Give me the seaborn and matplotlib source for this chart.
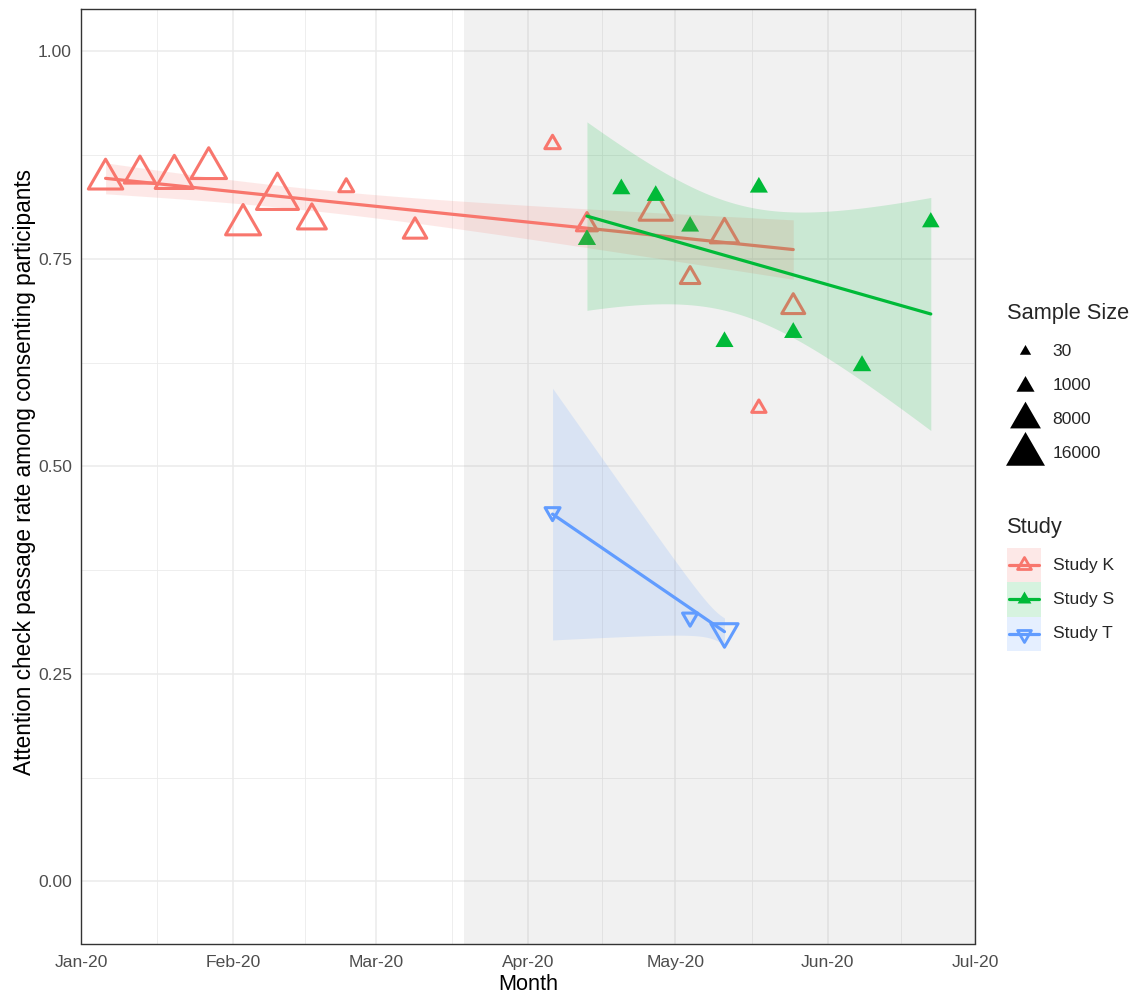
import numpy as np
import pandas as pd
import matplotlib
matplotlib.use("Agg")
import matplotlib.pyplot as plt
import matplotlib.dates as mdates
from matplotlib.lines import Line2D
from matplotlib.patches import Rectangle
from matplotlib.path import Path
from matplotlib.markers import MarkerStyle
from matplotlib.ticker import FormatStrFormatter
import seaborn as sns

# ---------------- data ----------------
study_names = ["Study K", "Study S", "Study T"]

k_dates = ["2020-01-06", "2020-01-13", "2020-01-20", "2020-01-27", "2020-02-03",
           "2020-02-10", "2020-02-17", "2020-02-24", "2020-03-09", "2020-04-06",
           "2020-04-13", "2020-04-27", "2020-05-04", "2020-05-11", "2020-05-18",
           "2020-05-25"]
k_rate = [0.846, 0.852, 0.848, 0.859, 0.791, 0.824, 0.796, 0.836, 0.783, 0.888,
          0.791, 0.808, 0.727, 0.779, 0.570, 0.692]
k_n = [8500, 6000, 12000, 9500, 9000, 16000, 4500, 40, 1800, 60,
       1000, 7500, 600, 4100, 30, 1600]

s_dates = ["2020-04-13", "2020-04-20", "2020-04-27", "2020-05-04", "2020-05-11",
           "2020-05-18", "2020-05-25", "2020-06-08", "2020-06-22"]
s_rate = [0.773, 0.834, 0.826, 0.789, 0.650, 0.836, 0.661, 0.621, 0.794]
s_n = [1050, 1000, 1000, 950, 1000, 1000, 1050, 1100, 850]

t_dates = ["2020-04-06", "2020-05-04", "2020-05-11"]
t_rate = [0.445, 0.318, 0.301]
t_n = [40, 45, 3500]

size_breaks = [30, 1000, 8000, 16000]
month_ticks = ["2020-01-01", "2020-02-01", "2020-03-01", "2020-04-01",
               "2020-05-01", "2020-06-01", "2020-07-01"]
shade_start, shade_end = "2020-03-19", "2020-07-01"
y_ticks = [0.0, 0.25, 0.5, 0.75, 1.0]

# ---------------- styling ----------------
sns.set_theme(style="white")
plt.rcParams["font.family"] = ["Liberation Sans", "DejaVu Sans"]

colors = {"Study K": "#F8766D", "Study S": "#00BA38", "Study T": "#619CFF"}
RIBBON_ALPHA = 0.16

DPI = 100
W, H = 1135, 994
PT_PER_PX = 72 / DPI

tri_up = MarkerStyle(Path([(0, 1), (-0.866, -0.5), (0.866, -0.5), (0, 1)],
                          [Path.MOVETO, Path.LINETO, Path.LINETO, Path.CLOSEPOLY]),
                     joinstyle="miter")
tri_down = MarkerStyle(Path([(0, -1), (-0.866, 0.5), (0.866, 0.5), (0, -1)],
                            [Path.MOVETO, Path.LINETO, Path.LINETO, Path.CLOSEPOLY]),
                       joinstyle="miter")


def tri_width_px(n, extra=0.0):
    # triangle width grows with the square root of the sample size
    return 11.3 + extra + 0.219 * np.sqrt(max(n - 30, 0))


def tri_ms(n, extra=0.0):
    return tri_width_px(n, extra) * PT_PER_PX / 0.866


def tri_area(n, extra=0.0):
    return tri_ms(n, extra) ** 2


OPEN_EXTRA = 3.0

base = pd.Timestamp("2020-01-01")


def frame(dates, rate, n, name):
    d = pd.to_datetime(pd.Series(dates))
    return pd.DataFrame({"date": d, "rate": rate, "n": n, "study": name,
                         "days": (d - base) / pd.Timedelta(days=1)})


df_k = frame(k_dates, k_rate, k_n, "Study K")
df_s = frame(s_dates, s_rate, s_n, "Study S")
df_t = frame(t_dates, t_rate, t_n, "Study T")

T975 = {1: 12.706, 7: 2.365, 14: 2.145}


def wls_fit(df, num=80):
    """Sample-size weighted linear fit with a 95% confidence band."""
    x = df["days"].to_numpy(float)
    y = df["rate"].to_numpy(float)
    w = df["n"].to_numpy(float)
    X = np.column_stack([np.ones_like(x), x])
    XtWX = X.T @ (X * w[:, None])
    beta = np.linalg.solve(XtWX, X.T @ (w * y))
    resid = y - X @ beta
    dof = len(x) - 2
    s2 = np.sum(w * resid ** 2) / dof
    cov = s2 * np.linalg.inv(XtWX)
    g = np.linspace(x.min(), x.max(), num)
    G = np.column_stack([np.ones_like(g), g])
    fit = G @ beta
    se = np.sqrt(np.einsum("ij,jk,ik->i", G, cov, G))
    half = T975[dof] * se
    gd = base + pd.to_timedelta(g, unit="D")
    return pd.DataFrame({"date": gd, "fit": fit, "lo": fit - half, "hi": fit + half})


# ---------------- figure ----------------
fig = plt.figure(figsize=(W / DPI, H / DPI), dpi=DPI)
ax = fig.add_axes([81 / W, 1 - 943.5 / H, 894 / W, (943.5 - 8.7) / H])
ax.set_facecolor("white")

# lockdown period shading
ax.axvspan(pd.Timestamp(shade_start), pd.Timestamp(shade_end), color="#7F7F7F",
           alpha=0.1, lw=0, zorder=0.8)

# points
sns.scatterplot(data=df_k, x="date", y="rate", size="n",
                sizes={n: tri_area(n, OPEN_EXTRA) for n in df_k["n"].unique()},
                marker=tri_up, facecolor="none", edgecolor=colors["Study K"],
                linewidth=2.2, legend=False, ax=ax, zorder=2)
sns.scatterplot(data=df_s, x="date", y="rate", size="n",
                sizes={n: tri_area(n) for n in df_s["n"].unique()},
                marker=tri_up, facecolor=colors["Study S"], edgecolor="none",
                linewidth=0, legend=False, ax=ax, zorder=2)
sns.scatterplot(data=df_t, x="date", y="rate", size="n",
                sizes={n: tri_area(n, OPEN_EXTRA) for n in df_t["n"].unique()},
                marker=tri_down, facecolor="none", edgecolor=colors["Study T"],
                linewidth=2.2, legend=False, ax=ax, zorder=2)

# weighted linear trends with confidence bands
z = 3.0
for df in (df_k, df_s, df_t):
    name = df["study"].iloc[0]
    c = colors[name]
    fit = wls_fit(df)
    ax.fill_between(fit["date"], fit["lo"], fit["hi"], color=c, alpha=RIBBON_ALPHA,
                    linewidth=0, zorder=z)
    sns.lineplot(data=fit, x="date", y="fit", color=c, linewidth=2.3, ax=ax,
                 zorder=z + 0.1)
    z += 0.2

# axes
ax.set_xlim(pd.Timestamp(month_ticks[0]), pd.Timestamp(month_ticks[-1]))
ax.set_ylim(-0.0747, 1.0512)
major_x = [pd.Timestamp(d) for d in month_ticks]
ax.set_xticks(major_x)
minor_x = [major_x[i] + (major_x[i + 1] - major_x[i]) / 2 for i in range(len(major_x) - 1)]
ax.set_xticks(minor_x, minor=True)
ax.xaxis.set_major_formatter(mdates.DateFormatter("%b-%y"))
ax.set_yticks(y_ticks)
ax.set_yticks([0.125, 0.375, 0.625, 0.875], minor=True)
ax.yaxis.set_major_formatter(FormatStrFormatter("%.2f"))
ax.set_axisbelow(True)
ax.grid(which="major", color="#EBEBEB", linewidth=1.1)
ax.grid(which="minor", color="#EBEBEB", linewidth=0.6)
ax.tick_params(which="major", length=3.5, width=1.0, color="#333333",
               labelcolor="#4D4D4D", labelsize=12.6, pad=3.0)
ax.tick_params(axis="x", which="major", pad=4.5)
ax.tick_params(which="minor", length=0)
for sp in ax.spines.values():
    sp.set_visible(True)
    sp.set_color("#333333")
    sp.set_linewidth(1.0)
ax.set_xlabel("")
ax.set_ylabel("")


def fx(px):
    return px / W


def fy(py):
    return 1 - py / H


fig.text(fx(528), fy(984), "Month", fontsize=15.6, ha="center", va="center", color="black")
fig.text(fx(25), fy(472), "Attention check passage rate among consenting participants",
         fontsize=16.3, rotation=90, ha="center", va="center", color="black")

# legend: sample size
fig.text(fx(1007), fy(313), "Sample Size", fontsize=15.7, ha="left", va="center")
for n, yy in zip(size_breaks, [351, 385.5, 419, 454]):
    fig.add_artist(Line2D([fx(1024.5)], [fy(yy)], transform=fig.transFigure,
                          marker=tri_up, markersize=tri_ms(n), color="black",
                          markeredgewidth=0, linestyle="none"))
    fig.text(fx(1052.5), fy(yy), f"{n}", fontsize=12.6, ha="left", va="center")

# legend: study
fig.text(fx(1007), fy(527), "Study", fontsize=15.7, ha="left", va="center")
key_markers = {"Study K": (tri_up, False), "Study S": (tri_up, True), "Study T": (tri_down, False)}
for i, name in enumerate(study_names):
    c = colors[name]
    top = 548 + 34.3 * i
    cy = top + 17.15
    fig.add_artist(Rectangle((fx(1007), fy(top + 34.3)), 34 / W, 34.3 / H,
                             transform=fig.transFigure, facecolor=c,
                             alpha=RIBBON_ALPHA, lw=0))
    fig.add_artist(Line2D([fx(1009), fx(1039)], [fy(cy), fy(cy)],
                          transform=fig.transFigure, color=c, lw=2.3))
    mk, filled = key_markers[name]
    fig.add_artist(Line2D([fx(1024)], [fy(cy)], transform=fig.transFigure,
                          marker=mk, markersize=11.5, linestyle="none",
                          markerfacecolor=c if filled else "none",
                          markeredgecolor=c, markeredgewidth=0 if filled else 2.0))
    fig.text(fx(1053), fy(cy), name, fontsize=12.6, ha="left", va="center")

fig.savefig("out.png", dpi=DPI)
